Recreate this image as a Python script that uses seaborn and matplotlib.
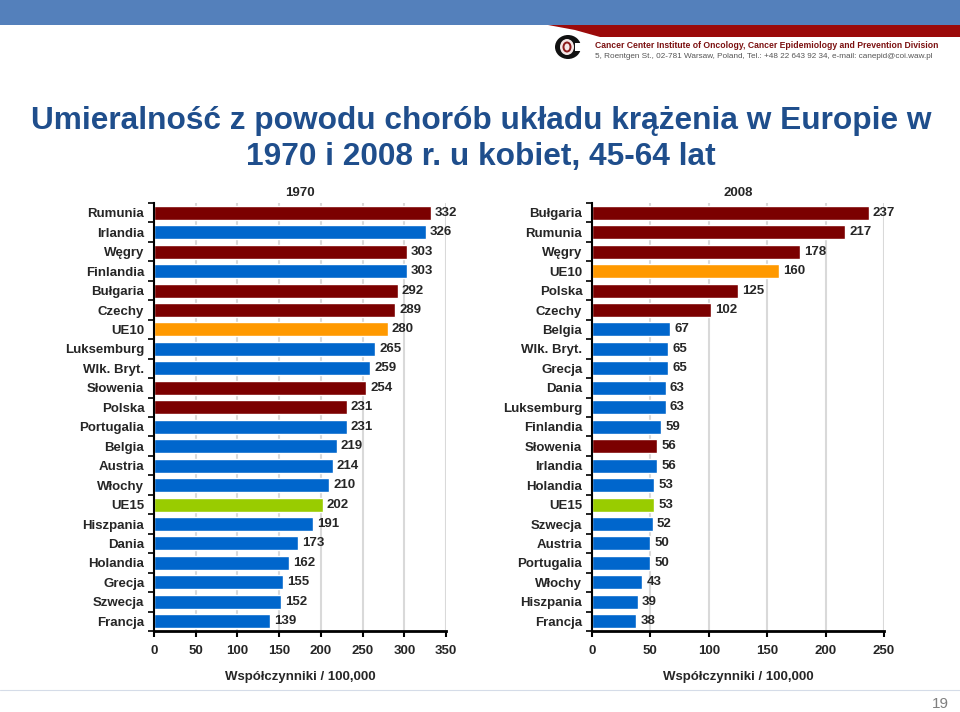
import matplotlib
matplotlib.use("Agg")
import matplotlib.pyplot as plt
import seaborn as sns
import numpy as np
from matplotlib.patches import Rectangle, Polygon, Ellipse

sns.set_theme(style="white")
plt.rcParams['font.family'] = ['Liberation Sans', 'DejaVu Sans']

# ---- data ----
countries_1970 = ["Rumunia", "Irlandia", "Węgry", "Finlandia", "Bułgaria", "Czechy", "UE10",
                  "Luksemburg", "Wlk. Bryt.", "Słowenia", "Polska", "Portugalia", "Belgia",
                  "Austria", "Włochy", "UE15", "Hiszpania", "Dania", "Holandia", "Grecja",
                  "Szwecja", "Francja"]
values_1970 = [332, 326, 303, 303, 292, 289, 280, 265, 259, 254, 231, 231, 219, 214, 210,
               202, 191, 173, 162, 155, 152, 139]
groups_1970 = ["new", "old", "new", "old", "new", "new", "ue10", "old", "old", "new", "new",
               "old", "old", "old", "old", "ue15", "old", "old", "old", "old", "old", "old"]

countries_2008 = ["Bułgaria", "Rumunia", "Węgry", "UE10", "Polska", "Czechy", "Belgia",
                  "Wlk. Bryt.", "Grecja", "Dania", "Luksemburg", "Finlandia", "Słowenia",
                  "Irlandia", "Holandia", "UE15", "Szwecja", "Austria", "Portugalia", "Włochy",
                  "Hiszpania", "Francja"]
values_2008 = [237, 217, 178, 160, 125, 102, 67, 65, 65, 63, 63, 59, 56, 56, 53, 53, 52, 50,
               50, 43, 39, 38]
groups_2008 = ["new", "new", "new", "ue10", "new", "new", "old", "old", "old", "old", "old",
               "old", "new", "old", "old", "ue15", "old", "old", "old", "old", "old", "old"]

group_colors = {"new": "#7b0000", "old": "#0066cc", "ue10": "#ff9900", "ue15": "#99cc00"}

title_text = "Umieralność z powodu chorób układu krążenia w Europie w\n1970 i 2008 r. u kobiet, 45-64 lat"
xlabel_text = "Współczynniki / 100,000"

fig = plt.figure(figsize=(9.6, 7.12), dpi=100)

# ---- header decoration ----
hdr = fig.add_axes([0, 0, 1, 1], zorder=-5)
hdr.set_xlim(0, 960)
hdr.set_ylim(712, 0)
hdr.axis("off")
hdr.add_patch(Rectangle((0, 0), 960, 25, color="#5480bb", lw=0))
hdr.add_patch(Polygon([[548, 25], [960, 25], [960, 37], [600, 37], [575, 30]],
                      closed=True, color="#9b0a0a", lw=0))
hdr.add_patch(Ellipse((568, 47), 26, 24, color="#111111", lw=0))
hdr.add_patch(Ellipse((567, 47), 14, 16, color="#f4e6e6", lw=0))
hdr.add_patch(Ellipse((567, 47), 9, 11, color="#8b1a1a", lw=0))
hdr.add_patch(Ellipse((567, 47), 5, 7, color="#f4e6e6", lw=0))
hdr.add_patch(Rectangle((575, 43), 8, 8, color="white", lw=0))
hdr.text(595, 46, "Cancer Center Institute of Oncology, Cancer Epidemiology and Prevention Division",
         fontsize=6.25, fontweight="bold", color="#7b1010", va="center", ha="left")
hdr.text(595, 57, "5, Roentgen St., 02-781 Warsaw, Poland, Tel.: +48 22 643 92 34, e-mail: canepid@coi.waw.pl",
         fontsize=5.9, color="#555555", va="center", ha="left")
hdr.plot([0, 960], [690, 690], color="#d5dce8", lw=0.8)
hdr.text(940, 704, "19", fontsize=11, color="#7f7f7f", ha="center", va="center")
hdr.text(481, 139, title_text, fontsize=22.8, fontweight="bold", color="#1f4e8c",
         ha="center", va="center", linespacing=1.27)


def draw_panel(rect, cats, vals, groups, xmax, ticks, title):
    ax = fig.add_axes(rect)
    pal = {c: group_colors[g] for c, g in zip(cats, groups)}
    sns.barplot(x=vals, y=cats, hue=cats, palette=pal, legend=False, orient="h",
                width=0.72, saturation=1, ax=ax, order=cats, hue_order=cats)
    for p in ax.patches:
        p.set_zorder(3)
    ax.set_xlim(0, xmax)
    ax.set_ylim(len(cats) - 0.5, -0.5)
    ax.set_xticks(ticks)
    ax.set_xticklabels([str(t) for t in ticks], fontsize=9.5, fontweight="bold")
    ax.xaxis.grid(True, color="#d9d9d9", lw=1.5, zorder=0)
    ax.set_axisbelow(True)
    for s in ["top", "right"]:
        ax.spines[s].set_visible(False)
    ax.spines["left"].set_color("black")
    ax.spines["left"].set_linewidth(1.5)
    ax.spines["left"].set_zorder(4)
    ax.spines["bottom"].set_color("black")
    ax.spines["bottom"].set_linewidth(2)
    ax.spines["bottom"].set_zorder(4)
    ax.tick_params(axis="x", which="major", bottom=True, length=4, width=1.5,
                   color="black", pad=6)
    ax.tick_params(axis="y", which="major", left=False, length=0, pad=7)
    ax.set_yticks(np.arange(-0.5, len(cats), 1.0), minor=True)
    ax.tick_params(axis="y", which="minor", left=True, length=4, width=1.2, color="black")
    for lbl in ax.get_yticklabels():
        lbl.set_fontsize(9.5)
        lbl.set_fontweight("bold")
    ax.set_ylabel("")
    ax.set_xlabel(xlabel_text, fontsize=9.5, fontweight="bold", labelpad=10)
    ax.set_title(title, fontsize=9.5, fontweight="bold", pad=5)
    for cont in ax.containers:
        ax.bar_label(cont, padding=3, fontsize=9.5, fontweight="bold")
    return ax


draw_panel([154 / 960, 1 - 631 / 712, 292 / 960, 428 / 712],
           countries_1970, values_1970, groups_1970, 350, list(range(0, 351, 50)), "1970")
draw_panel([592 / 960, 1 - 631 / 712, 292 / 960, 428 / 712],
           countries_2008, values_2008, groups_2008, 250, list(range(0, 251, 50)), "2008")

fig.savefig("out.png", dpi=100)
